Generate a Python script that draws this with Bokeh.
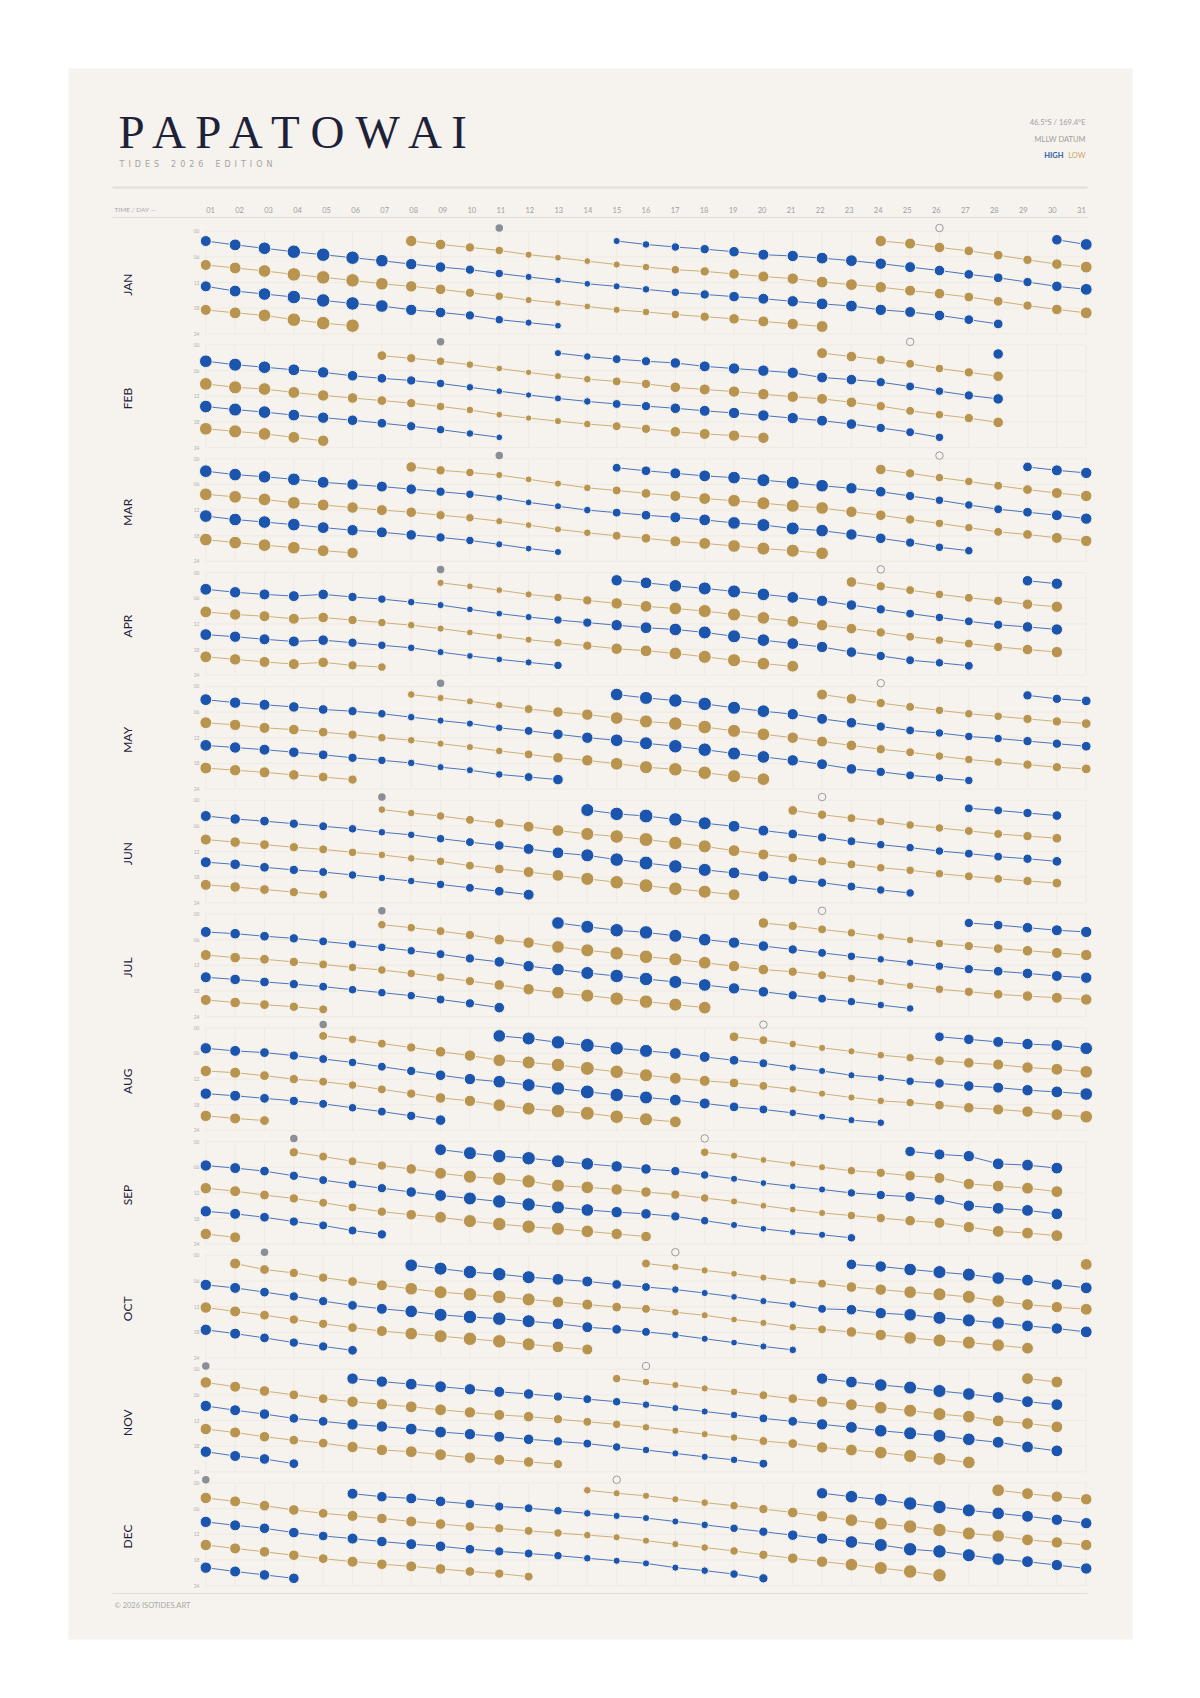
import math
from bokeh.plotting import figure
from bokeh.models import ColumnDataSource, Range1d, Label
from bokeh.embed import file_html
from bokeh.resources import INLINE
from bokeh.core.properties import value

# ---------------------------------------------------------------- data
MONTHS = ["JAN", "FEB", "MAR", "APR", "MAY", "JUN", "JUL", "AUG", "SEP", "OCT", "NOV", "DEC"]
DAYS_IN_MONTH = [31, 28, 31, 30, 31, 30, 31, 31, 30, 31, 30, 31]
DAY_LABELS = [f"{d:02d}" for d in range(1, 32)]
HOUR_TICKS = [0, 6, 12, 18, 24]
HOUR_LABELS = ["00", "06", "12", "18", "24"]
FULL_MOON_DAY = [11, 9, 11, 9, 9, 7, 7, 5, 4, 3, 1, 1]
NEW_MOON_DAY = [26, 25, 26, 24, 24, 22, 22, 20, 18, 17, 16, 15]

# tide chains: (type, first day, time of tide in hours for consecutive days)
JAN = [
    ("H", 1, [2.3, 3.2, 4.0, 4.8, 5.5, 6.2, 6.9, 7.7, 8.4, 9.0, 9.9, 10.7, 11.5, 12.3, 12.9, 13.6, 14.3, 14.8, 15.3, 15.8, 16.4, 17.0, 17.5, 18.4, 18.9, 19.7, 20.7, 21.7]),
    ("L", 1, [7.9, 8.6, 9.3, 10.1, 10.8, 11.5, 12.3, 12.9, 13.6, 14.4, 15.2, 16.1, 16.8, 17.6, 18.4, 18.9, 19.5, 20.0, 20.5, 21.1, 21.7, 22.3]),
    ("H", 1, [12.9, 14.0, 14.7, 15.4, 16.2, 16.9, 17.5, 18.4, 19.0, 19.7, 20.7, 21.4, 22.1]),
    ("L", 1, [18.4, 19.1, 19.7, 20.7, 21.5, 22.1]),
    ("L", 8, [2.3, 3.1, 3.8, 4.5, 5.5, 6.2, 7.0, 7.8, 8.4, 9.0, 9.4, 10.0, 10.6, 11.1, 11.9, 12.5, 13.1, 13.9, 14.6, 15.4, 16.4, 17.4, 18.3, 19.1]),
    ("H", 15, [2.3, 3.1, 3.7, 4.2, 4.8, 5.5, 5.8, 6.3, 6.9, 7.6, 8.4, 9.2, 10.1, 10.9, 11.9, 12.9, 13.6]),
    ("L", 24, [2.3, 2.9, 3.8, 4.6, 5.6, 6.7, 7.7, 8.4]),
    ("H", 30, [2.0, 3.1]),
]
FEB = [
    ("H", 1, [3.8, 4.6, 5.2, 5.8, 6.4, 7.2, 7.8, 8.3, 9.0, 9.9, 10.8, 11.7, 12.5, 13.2, 13.8, 14.3, 14.8, 15.4, 15.9, 16.5, 17.1, 17.7, 18.5, 19.4, 20.4, 21.6]),
    ("L", 1, [9.1, 9.9, 10.3, 11.1, 11.8, 12.4, 13.0, 13.6, 14.4, 15.2, 16.3, 17.1, 17.8, 18.5, 19.0, 19.6, 20.3, 20.8, 21.2, 21.7]),
    ("H", 1, [14.4, 15.1, 15.7, 16.4, 17.0, 17.6, 18.3, 19.0, 19.8, 20.7, 21.6]),
    ("L", 1, [19.6, 20.2, 20.8, 21.6, 22.4]),
    ("L", 7, [2.5, 3.1, 3.8, 4.6, 5.5, 6.4, 7.3, 8.0, 8.5, 9.1, 9.9, 10.4, 10.9, 11.5, 12.1, 12.6, 13.4, 14.3, 15.4, 16.3, 17.1, 18.1]),
    ("H", 13, [1.9, 2.7, 3.3, 3.8, 4.2, 5.0, 5.5, 6.0, 6.5, 7.6, 8.1, 8.7, 9.7, 10.8, 11.8, 12.6]),
    ("L", 22, [1.9, 2.7, 3.5, 4.4, 5.5, 6.4, 7.3]),
    ("H", 28, [2.1]),
]
MAR = [
    ("H", 1, [2.9, 3.7, 4.2, 4.8, 5.5, 6.0, 6.5, 7.1, 7.7, 8.3, 9.1, 10.2, 11.1, 12.0, 12.6, 13.2, 13.7, 14.3, 15.0, 15.5, 16.3, 16.8, 17.7, 18.6, 19.6, 20.7, 21.5]),
    ("L", 1, [8.3, 8.9, 9.5, 10.3, 10.8, 11.4, 12.0, 12.5, 13.2, 13.8, 14.6, 15.5, 16.5, 17.3, 18.0, 18.6, 19.3, 19.8, 20.4, 21.0, 21.5, 22.1]),
    ("H", 1, [13.4, 14.2, 14.8, 15.4, 16.1, 16.7, 17.2, 17.8, 18.4, 19.1, 20.0, 21.0, 21.8]),
    ("L", 1, [18.9, 19.6, 20.2, 20.8, 21.5, 22.0]),
    ("L", 8, [1.9, 2.7, 3.2, 3.8, 4.8, 5.8, 6.8, 7.4, 8.1, 8.7, 9.3, 9.8, 10.4, 11.0, 11.5, 12.4, 13.2, 14.2, 15.1, 16.1, 17.1, 17.7, 18.5, 19.2]),
    ("H", 15, [2.1, 2.8, 3.4, 4.0, 4.4, 5.0, 5.6, 6.3, 6.9, 7.7, 8.7, 9.7, 10.8, 11.8, 12.5, 13.2, 14.0]),
    ("L", 24, [2.5, 3.4, 4.4, 5.3, 6.3, 7.2, 8.0, 8.7]),
    ("H", 29, [1.9, 2.7, 3.3]),
]
APR = [
    ("H", 1, [3.9, 4.6, 5.1, 5.5, 5.1, 5.7, 6.2, 6.9, 7.6, 8.6, 9.6, 10.4, 11.1, 11.7, 12.3, 12.9, 13.3, 14.0, 14.9, 15.8, 16.6, 17.4, 18.6, 19.5, 20.5, 21.1, 21.8]),
    ("L", 1, [9.2, 9.8, 10.2, 10.8, 10.5, 11.1, 11.7, 12.3, 13.1, 14.0, 14.9, 15.7, 16.4, 17.1, 17.8, 18.3, 18.9, 19.7, 20.5, 21.3, 21.9]),
    ("H", 1, [14.5, 15.0, 15.6, 16.1, 15.8, 16.4, 17.0, 17.6, 18.6, 19.5, 20.3, 21.0, 21.7]),
    ("L", 1, [19.7, 20.3, 20.9, 21.4, 21.0, 21.7, 22.1]),
    ("L", 9, [2.4, 3.2, 4.1, 5.1, 5.8, 6.5, 7.2, 7.9, 8.4, 9.0, 9.8, 10.6, 11.4, 12.3, 13.1, 14.0, 15.0, 15.8, 16.6, 17.4, 18.0, 18.6]),
    ("H", 15, [1.8, 2.4, 3.1, 3.7, 4.4, 5.1, 5.8, 6.6, 7.6, 8.6, 9.6, 10.5, 11.4, 12.2, 12.7, 13.3]),
    ("L", 23, [2.2, 3.2, 4.1, 5.1, 5.9, 6.6, 7.4, 8.0]),
    ("H", 29, [1.9, 2.6]),
]
MAY = [
    ("H", 1, [3.1, 3.8, 4.3, 4.8, 5.4, 5.8, 6.4, 7.2, 8.0, 8.7, 9.7, 10.4, 11.2, 12.0, 12.6, 13.3, 14.0, 14.8, 15.7, 16.5, 17.3, 18.2, 19.3, 20.0, 20.8, 21.4, 22.0]),
    ("L", 1, [8.5, 9.0, 9.7, 10.1, 10.7, 11.3, 12.0, 12.6, 13.4, 14.2, 15.1, 15.9, 16.7, 17.3, 18.1, 18.9, 19.4, 20.2, 21.0, 21.7]),
    ("H", 1, [13.8, 14.3, 14.8, 15.4, 16.0, 16.7, 17.3, 17.9, 18.9, 19.6, 20.6, 21.2, 21.8]),
    ("L", 1, [19.1, 19.6, 20.1, 20.7, 21.2, 21.8]),
    ("L", 8, [1.9, 2.7, 3.5, 4.4, 5.3, 6.0, 6.6, 7.4, 8.2, 8.7, 9.5, 10.4, 11.2, 12.0, 12.9, 13.8, 14.7, 15.4, 16.3, 17.1, 17.7, 18.3, 18.9, 19.3]),
    ("H", 15, [1.9, 2.7, 3.3, 4.1, 5.0, 5.8, 6.5, 7.6, 8.5, 9.4, 10.3, 10.9, 11.7, 12.2, 12.8, 13.4, 14.0]),
    ("L", 22, [1.9, 2.9, 3.9, 4.8, 5.6, 6.4, 7.0, 7.6, 8.2, 8.7]),
    ("H", 29, [2.1, 2.9, 3.4]),
]
JUN = [
    ("H", 1, [3.7, 4.4, 4.9, 5.5, 6.1, 6.7, 7.5, 8.1, 9.0, 9.8, 10.6, 11.4, 12.3, 12.9, 13.9, 14.7, 15.5, 16.3, 17.0, 17.8, 18.6, 19.3, 20.2, 21.0, 21.7]),
    ("L", 1, [9.2, 9.8, 10.4, 11.0, 11.5, 12.2, 12.8, 13.6, 14.3, 15.3, 16.1, 16.8, 17.6, 18.4, 19.2, 20.0, 20.7, 21.4, 22.1]),
    ("H", 1, [14.5, 15.0, 15.7, 16.3, 16.8, 17.5, 18.2, 18.9, 19.7, 20.5, 21.3, 22.1]),
    ("L", 1, [19.8, 20.3, 20.9, 21.5, 22.1]),
    ("L", 7, [2.2, 3.0, 3.7, 4.6, 5.4, 6.2, 7.1, 7.9, 8.5, 9.2, 10.0, 10.8, 11.8, 12.7, 13.5, 14.3, 15.0, 15.8, 16.4, 17.2, 17.8, 18.4, 18.9, 19.4]),
    ("H", 14, [2.3, 3.2, 3.7, 4.5, 5.4, 6.1, 7.1, 7.9, 8.7, 9.6, 10.4, 11.1, 11.9, 12.5, 13.2, 13.7, 14.3]),
    ("L", 21, [2.4, 3.4, 4.2, 5.0, 5.8, 6.5, 7.2, 7.9, 8.4, 8.9]),
    ("H", 27, [1.9, 2.4, 3.0, 3.6]),
]
JUL = [
    ("H", 1, [4.2, 4.6, 5.2, 5.7, 6.4, 7.1, 7.8, 8.6, 9.4, 10.4, 11.2, 12.2, 13.0, 13.8, 14.5, 15.2, 15.9, 16.6, 17.4, 18.2, 19.0, 19.8, 20.5, 21.3, 22.1]),
    ("L", 1, [9.6, 10.2, 10.6, 11.2, 11.8, 12.5, 13.1, 13.9, 14.8, 15.7, 16.6, 17.6, 18.4, 19.1, 19.8, 20.5, 21.2, 21.9]),
    ("H", 1, [14.8, 15.3, 15.9, 16.4, 17.0, 17.7, 18.4, 19.1, 20.0, 20.9, 21.9]),
    ("L", 1, [20.1, 20.7, 21.2, 21.7, 22.3]),
    ("L", 7, [2.5, 3.2, 4.0, 4.9, 6.0, 6.7, 7.7, 8.5, 9.2, 10.0, 10.6, 11.4, 12.2, 13.0, 13.5, 14.3, 15.1, 15.9, 16.8, 17.6, 18.2, 18.8, 19.2, 19.6, 20.0]),
    ("H", 13, [2.1, 3.0, 3.8, 4.3, 5.1, 6.0, 6.7, 7.5, 8.3, 9.1, 9.9, 10.6, 11.4, 12.2, 12.9, 13.4, 13.9, 14.5, 14.9]),
    ("L", 20, [2.1, 2.8, 3.6, 4.4, 5.3, 6.1, 6.9, 7.5, 8.1, 8.6, 9.1, 9.6]),
    ("H", 27, [2.1, 2.6, 3.2, 3.8, 4.2]),
]
AUG = [
    ("H", 1, [4.8, 5.4, 5.8, 6.5, 7.3, 8.1, 9.1, 10.1, 11.1, 12.0, 12.6, 13.4, 14.2, 15.0, 15.7, 16.3, 16.9, 17.7, 18.5, 19.1, 19.9, 20.8, 21.6, 22.2]),
    ("L", 1, [10.1, 10.5, 11.2, 12.0, 12.6, 13.4, 14.4, 15.4, 16.4, 17.1, 18.1, 18.9, 19.5, 20.0, 20.8, 21.4, 22.0]),
    ("H", 1, [15.4, 15.9, 16.5, 17.1, 17.8, 18.7, 19.6, 20.6, 21.6]),
    ("L", 1, [20.6, 21.2, 21.7]),
    ("L", 5, [1.9, 2.7, 3.7, 4.6, 5.6, 6.5, 7.6, 8.1, 8.7, 9.5, 10.3, 11.1, 11.8, 12.4, 12.9, 13.6, 14.4, 15.4, 16.3, 17.1, 17.5, 18.1, 18.7, 19.1, 19.6, 20.3, 20.8]),
    ("H", 11, [1.9, 2.5, 3.4, 4.1, 4.8, 5.4, 6.0, 6.8, 7.6, 8.3, 9.3, 10.1, 11.1, 11.7, 12.5, 13.0, 13.6, 14.0, 14.6, 15.0, 15.5]),
    ("L", 19, [2.1, 2.9, 3.8, 4.7, 5.5, 6.4, 7.0, 7.7, 8.2, 8.6, 9.3, 9.7, 10.3]),
    ("H", 26, [2.1, 2.7, 3.3, 3.8, 4.1, 4.8]),
]
SEP = [
    ("H", 1, [5.6, 6.2, 6.9, 8.0, 9.0, 10.0, 10.9, 11.8, 12.6, 13.3, 14.0, 14.7, 15.4, 16.0, 16.5, 16.9, 17.5, 18.5, 19.5, 20.4, 21.2, 21.8, 22.5]),
    ("L", 1, [10.9, 11.6, 12.5, 13.3, 14.3, 15.4, 16.4, 17.1, 17.7, 18.6, 19.3, 19.9, 20.4, 21.0, 21.6, 22.2]),
    ("H", 1, [16.3, 16.9, 17.7, 18.7, 19.6, 20.8, 21.7]),
    ("L", 1, [21.6, 22.4]),
    ("L", 4, [2.5, 3.5, 4.6, 5.6, 6.4, 7.4, 8.2, 8.7, 9.3, 10.3, 10.7, 11.2, 11.8, 12.4, 13.2, 14.0, 15.0, 15.9, 16.7, 17.3, 17.9, 18.5, 19.0, 20.0, 21.0, 21.4, 22.0]),
    ("H", 9, [1.9, 2.7, 3.4, 3.9, 4.6, 5.2, 5.8, 6.4, 6.9, 7.8, 8.7, 9.7, 10.5, 11.2, 12.0, 12.5, 12.9, 13.6, 15.0, 15.6, 16.1, 16.9]),
    ("L", 18, [2.5, 3.3, 4.3, 5.2, 6.0, 6.8, 7.3, 8.0, 8.5, 9.9, 10.4, 10.9, 11.7]),
    ("H", 25, [2.3, 3.0, 3.4, 5.2, 5.5, 6.2]),
]
OCT = [
    ("H", 1, [6.9, 7.6, 8.6, 9.6, 10.7, 11.7, 12.5, 13.1, 13.9, 14.4, 14.8, 15.4, 16.0, 16.8, 17.3, 17.9, 18.6, 19.5, 20.4, 21.3, 22.1]),
    ("L", 1, [12.2, 13.1, 14.0, 15.0, 16.0, 16.9, 17.7, 18.3, 18.9, 19.5, 20.1, 20.8, 21.4, 22.0]),
    ("H", 1, [17.4, 18.3, 19.3, 20.4, 21.3, 22.2]),
    ("L", 2, [1.9, 3.3, 4.1, 5.2, 6.1, 7.0, 7.8, 8.6, 9.1, 9.7, 10.3, 10.9, 11.5, 12.1, 12.5, 13.3, 14.0, 15.0, 15.8, 16.8, 17.3, 17.9, 18.6, 19.3, 19.9, 20.4, 21.0, 21.7]),
    ("H", 8, [2.3, 3.1, 3.9, 4.4, 5.1, 5.6, 6.1, 6.8, 7.4, 8.0, 8.8, 9.7, 10.7, 11.5, 12.5, 12.7, 13.5, 13.9, 14.6, 15.2, 15.8, 16.5, 17.1, 17.9]),
    ("L", 16, [1.9, 2.7, 3.5, 4.3, 5.2, 6.0, 6.6, 7.4, 8.0, 8.6, 9.1, 9.7, 10.7, 11.5, 12.1, 12.6]),
    ("H", 23, [2.1, 2.6, 3.3, 3.9, 4.5, 5.3, 5.8, 6.8, 7.6]),
    ("L", 31, [2.1]),
]
NOV = [
    ("L", 1, [3.1, 4.1, 5.1, 6.0, 6.9, 7.6, 8.2, 8.8, 9.5, 10.1, 10.7, 11.1, 11.7, 12.3, 12.9, 13.6, 14.4, 15.2, 16.0, 16.8, 17.4, 18.3, 18.9, 19.5, 20.3, 21.0, 21.8]),
    ("H", 1, [8.6, 9.6, 10.5, 11.5, 12.2, 12.9, 13.4, 14.0, 14.7, 15.2, 15.8, 16.4, 16.9, 17.4, 18.2, 18.9, 19.7, 20.5, 21.2, 22.1]),
    ("L", 1, [14.0, 14.8, 15.8, 16.6, 17.3, 18.2, 18.9, 19.3, 20.0, 20.7, 21.2, 21.7, 22.2]),
    ("H", 1, [19.3, 20.3, 21.0, 22.1]),
    ("H", 6, [2.2, 2.9, 3.5, 4.1, 4.7, 5.3, 5.8, 6.4, 7.0, 7.6, 8.3, 9.1, 9.9, 10.7, 11.5, 12.2, 12.9, 13.6, 14.4, 15.0, 15.6, 16.4, 17.1, 18.2, 19.1]),
    ("L", 15, [2.2, 3.0, 3.7, 4.5, 5.3, 6.1, 6.9, 7.6, 8.3, 9.0, 9.7, 10.5, 11.1, 12.1, 12.7, 13.5]),
    ("H", 22, [2.2, 3.0, 3.7, 4.3, 5.1, 5.8, 6.6, 7.6, 8.3]),
    ("L", 29, [2.2, 3.0]),
]
DEC = [
    ("L", 1, [3.5, 4.3, 5.3, 6.3, 7.1, 7.7, 8.3, 9.0, 9.6, 10.2, 10.6, 11.2, 11.7, 12.2, 12.7, 13.5, 14.3, 15.1, 15.9, 16.8, 17.6, 18.4, 19.1, 19.9, 20.7, 21.6]),
    ("H", 1, [9.1, 9.9, 10.6, 11.6, 12.4, 13.0, 13.7, 14.3, 14.8, 15.5, 16.0, 16.5, 17.0, 17.6, 18.2, 18.8, 19.8, 20.5, 21.3, 22.3]),
    ("L", 1, [14.5, 15.3, 16.1, 16.9, 17.7, 18.4, 19.0, 19.5, 20.1, 20.7, 21.2, 21.9]),
    ("H", 1, [19.8, 20.7, 21.5, 22.3]),
    ("H", 6, [2.5, 3.2, 3.6, 4.3, 4.9, 5.5, 5.9, 6.5, 7.1, 7.7, 8.2, 9.0, 9.8, 10.6, 11.4, 12.2, 13.0, 13.8, 14.5, 15.5, 16.0, 16.9, 17.8, 18.4, 19.2, 20.0]),
    ("L", 14, [1.7, 2.4, 3.0, 3.8, 4.6, 5.3, 6.1, 6.9, 7.8, 8.7, 9.5, 10.2, 11.0, 11.8, 12.4, 13.3, 13.9, 14.5]),
    ("H", 22, [2.4, 3.2, 3.9, 4.8, 5.6, 6.4, 7.1, 7.8, 8.6, 9.4]),
    ("L", 28, [1.7, 2.5, 3.2, 3.8]),
]
TIDE_CHAINS = [JAN, FEB, MAR, APR, MAY, JUN, JUL, AUG, SEP, OCT, NOV, DEC]

# daily tidal range (m) -> dot size
DAILY_RANGE_M = [
    [1.9, 2.1, 2.3, 2.5, 2.5, 2.5, 2.3, 2.0, 1.8, 1.5, 1.3, 1.0, 0.9, 0.9, 1.0, 1.1, 1.3, 1.5, 1.8, 1.9, 2.0, 2.1, 2.1, 2.0, 1.9, 1.8, 1.6, 1.6, 1.5, 1.8, 2.1],
    [2.3, 2.4, 2.3, 2.1, 2.0, 1.8, 1.6, 1.5, 1.3, 1.1, 0.9, 0.8, 1.0, 1.1, 1.4, 1.5, 1.8, 1.9, 2.0, 2.0, 2.0, 1.9, 1.8, 1.5, 1.4, 1.3, 1.5, 1.8],
    [2.3, 2.3, 2.3, 2.3, 2.1, 2.0, 1.9, 1.8, 1.5, 1.3, 1.0, 0.9, 1.0, 1.1, 1.4, 1.6, 1.9, 2.1, 2.3, 2.4, 2.4, 2.3, 2.0, 1.8, 1.5, 1.3, 1.3, 1.4, 1.6, 1.9, 2.0],
    [2.1, 2.0, 1.9, 1.9, 1.8, 1.5, 1.3, 1.1, 1.0, 0.9, 0.9, 1.0, 1.3, 1.5, 2.0, 2.1, 2.3, 2.4, 2.4, 2.3, 2.1, 2.0, 1.8, 1.5, 1.4, 1.3, 1.4, 1.5, 1.8, 2.0],
    [2.1, 2.0, 1.9, 1.8, 1.6, 1.5, 1.3, 1.1, 1.0, 1.0, 1.1, 1.4, 1.8, 2.0, 2.3, 2.4, 2.5, 2.5, 2.4, 2.3, 2.0, 1.9, 1.8, 1.5, 1.4, 1.3, 1.3, 1.3, 1.5, 1.5, 1.6],
    [1.9, 1.8, 1.6, 1.5, 1.4, 1.3, 1.1, 1.1, 1.3, 1.4, 1.6, 1.9, 2.1, 2.4, 2.5, 2.6, 2.5, 2.4, 2.1, 1.9, 1.6, 1.5, 1.4, 1.3, 1.3, 1.3, 1.4, 1.4, 1.5, 1.6],
    [1.9, 1.8, 1.6, 1.5, 1.4, 1.3, 1.3, 1.3, 1.4, 1.5, 1.8, 2.0, 2.3, 2.4, 2.5, 2.5, 2.4, 2.3, 2.0, 1.8, 1.5, 1.4, 1.3, 1.1, 1.1, 1.3, 1.5, 1.6, 1.8, 1.9, 2.0],
    [2.0, 1.9, 1.6, 1.5, 1.4, 1.3, 1.4, 1.5, 1.8, 2.0, 2.3, 2.4, 2.5, 2.6, 2.5, 2.4, 2.1, 1.9, 1.6, 1.4, 1.1, 1.0, 1.0, 1.1, 1.3, 1.6, 1.8, 1.9, 2.0, 2.1, 2.3],
    [2.0, 1.9, 1.6, 1.5, 1.4, 1.4, 1.5, 1.8, 2.1, 2.4, 2.5, 2.5, 2.4, 2.3, 2.0, 1.8, 1.5, 1.3, 1.0, 0.9, 0.9, 1.0, 1.3, 1.5, 1.8, 1.9, 2.0, 2.1, 2.1, 2.1],
    [2.0, 1.9, 1.6, 1.5, 1.5, 1.6, 1.9, 2.3, 2.4, 2.5, 2.5, 2.4, 2.1, 1.9, 1.6, 1.4, 1.1, 1.0, 0.9, 1.0, 1.1, 1.4, 1.8, 2.0, 2.3, 2.4, 2.4, 2.3, 2.1, 2.0, 2.1],
    [2.0, 1.9, 1.8, 1.6, 1.6, 2.0, 2.0, 2.1, 2.1, 2.0, 1.9, 1.8, 1.5, 1.4, 1.3, 1.1, 1.0, 1.0, 1.1, 1.4, 1.6, 2.0, 2.1, 2.3, 2.4, 2.4, 2.3, 2.1, 2.1, 2.1],
    [2.0, 1.9, 1.8, 1.8, 1.6, 1.9, 1.8, 1.9, 1.8, 1.6, 1.5, 1.4, 1.3, 1.1, 1.0, 1.0, 1.0, 1.1, 1.3, 1.5, 1.8, 2.0, 2.3, 2.4, 2.5, 2.5, 2.4, 2.3, 2.1, 2.0, 2.0],
]

# ---------------------------------------------------------------- style / layout
CARD = "#f6f2ed"
INK = "#1d2238"
BLUE = "#1b55ad"
GOLD = "#b8944f"
BLUE_LINE = "#3767b6"
GOLD_LINE = "#c9a86c"
GRID = "#ece6de"
RULE = "#e2dcd3"
MUTED = "#9e9e9e"

W, H = 1184, 1682
CARD_PX = 68.0                       # card edge (left/top) in page pixels
ML, MT = 68, 68
MR, MB = W - 1132, H - 1639
FW, FH = W - ML - MR, H - MT - MB
SX, SY = 29.347, 4.275               # px per day, px per hour
DAY1_PX, HOUR0_PX = 205.3, 230.7
PANEL = 113.8 / SY                   # vertical pitch of month panels, in hour units
X0 = 1 - (DAY1_PX - CARD_PX) / SX
Y0 = -(HOUR0_PX - CARD_PX) / SY


def px2x(px):
    return X0 + (px - CARD_PX) / SX


def py2y(py):
    return Y0 + (py - CARD_PX) / SY


def dot_size(rng):
    return 3.0 + 4.2 * rng


p = figure(width=W, height=H,
           x_range=Range1d(X0, X0 + FW / SX), y_range=Range1d(Y0 + FH / SY, Y0),
           output_backend="svg", toolbar_location=None,
           x_axis_location=None, y_axis_location=None,
           min_border_left=ML, min_border_right=MR, min_border_top=MT, min_border_bottom=MB,
           background_fill_color=CARD, border_fill_color="white", outline_line_color=None)
p.grid.visible = False

# faint panel grids
gx0, gy0, gx1, gy1 = [], [], [], []
for m in range(12):
    base = m * PANEL
    for d in range(1, 32):
        gx0.append(d); gx1.append(d); gy0.append(base); gy1.append(base + 24)
    for hr in HOUR_TICKS:
        gx0.append(1); gx1.append(31); gy0.append(base + hr); gy1.append(base + hr)
p.segment(gx0, gy0, gx1, gy1, line_color=GRID, line_width=0.7)

# rules
rule_y = [py2y(187), py2y(217), py2y(1593)]
p.segment([px2x(112)] * 3, rule_y, [px2x(1087)] * 3, rule_y,
          line_color=RULE, line_width=[1.8, 1.0, 1.0])

# tide chains
lx, ly, lc = [], [], []
dx, dy, ds, dc = [], [], [], []
for m, chains in enumerate(TIDE_CHAINS):
    for kind, start, times in chains:
        days = [start + i for i in range(len(times)) if start + i <= DAYS_IN_MONTH[m]]
        ys = [m * PANEL + t for t in times[:len(days)]]
        lx.append(days); ly.append(ys)
        lc.append(BLUE_LINE if kind == "H" else GOLD_LINE)
        for d, y in zip(days, ys):
            dx.append(d); dy.append(y)
            ds.append(dot_size(DAILY_RANGE_M[m][d - 1]))
            dc.append(BLUE if kind == "H" else GOLD)

p.multi_line(xs=lx, ys=ly, line_color=lc, line_width=1.0, line_alpha=0.9)
src = ColumnDataSource(dict(x=dx, y=dy, s=ds, c=dc))
p.scatter("x", "y", size="s", fill_color="c", line_color=CARD, line_width=1, source=src)

# moon phases
p.scatter(FULL_MOON_DAY, [m * PANEL - 0.75 for m in range(12)], size=7.5,
          fill_color="#8a8e97", line_color=None)
p.scatter(NEW_MOON_DAY, [m * PANEL - 0.75 for m in range(12)], size=7.5,
          fill_color=CARD, line_color="#9c9c9c", line_width=1)

# day labels
p.text(x=[px2x(210 + i * 29.03) for i in range(31)], y=[py2y(209)] * 31, text=DAY_LABELS,
       text_font=value("Lato"), text_font_size=value("7.5px"), text_color=MUTED,
       text_align="center", text_baseline="middle")

# hour tick labels per panel
tx, ty, tt = [], [], []
for m in range(12):
    for hr, lab in zip(HOUR_TICKS, HOUR_LABELS):
        tx.append(px2x(199)); ty.append(m * PANEL + hr); tt.append(lab)
p.text(x=tx, y=ty, text=tt, text_font=value("Lato"), text_font_size=value("5px"),
       text_color="#b2b2b2", text_align="right", text_baseline="middle")

# month labels
p.text(x=[px2x(127)] * 12, y=[m * PANEL + 12.5 for m in range(12)], text=MONTHS,
       angle=math.pi / 2, text_font=value("Lato"), text_font_size=value("12px"),
       text_color=INK, text_align="center", text_baseline="middle")

# header
p.add_layout(Label(x=px2x(118), y=py2y(131.5), text="P A P A T O W A I",
                   text_font="Liberation Serif", text_font_size="47px", text_color=INK,
                   text_align="left", text_baseline="middle"))
sub = "\u2002".join("TIDES") + "\u2002\u2002\u2002" + "\u2002".join("2026") + "\u2002\u2002\u2002" + "\u2002".join("EDITION")
p.add_layout(Label(x=px2x(119), y=py2y(163.5), text=sub, text_font="DejaVu Sans",
                   text_font_size="8px", text_color="#a4a4a4",
                   text_align="left", text_baseline="middle"))
p.add_layout(Label(x=px2x(1085), y=py2y(122), text="46.5°S / 169.4°E", text_font="Lato",
                   text_font_size="7.5px", text_color="#a0a0a0", text_align="right",
                   text_baseline="middle"))
p.add_layout(Label(x=px2x(1085), y=py2y(138.6), text="MLLW DATUM", text_font="Lato",
                   text_font_size="7.5px", text_color="#a0a0a0", text_align="right",
                   text_baseline="middle"))
p.add_layout(Label(x=px2x(1085), y=py2y(155), text="LOW", text_font="Lato",
                   text_font_size="7.5px", text_color="#c9a86a", text_align="right",
                   text_baseline="middle"))
p.add_layout(Label(x=px2x(1063), y=py2y(155), text="HIGH", text_font="Lato",
                   text_font_size="7.5px", text_color="#2a5caa", text_align="right",
                   text_baseline="middle", text_font_style="bold"))
p.add_layout(Label(x=px2x(114), y=py2y(209), text="TIME / DAY —", text_font="Lato",
                   text_font_size="6.5px", text_color="#a8a8a8", text_align="left",
                   text_baseline="middle"))
p.add_layout(Label(x=px2x(114), y=py2y(1605), text="© 2026 ISOTIDES.ART", text_font="Lato",
                   text_font_size="7.5px", text_color="#a9a9a9", text_align="left",
                   text_baseline="middle"))

html = file_html(p, INLINE, "Papatowai Tides 2026")
open("out.html", "w").write(html)
